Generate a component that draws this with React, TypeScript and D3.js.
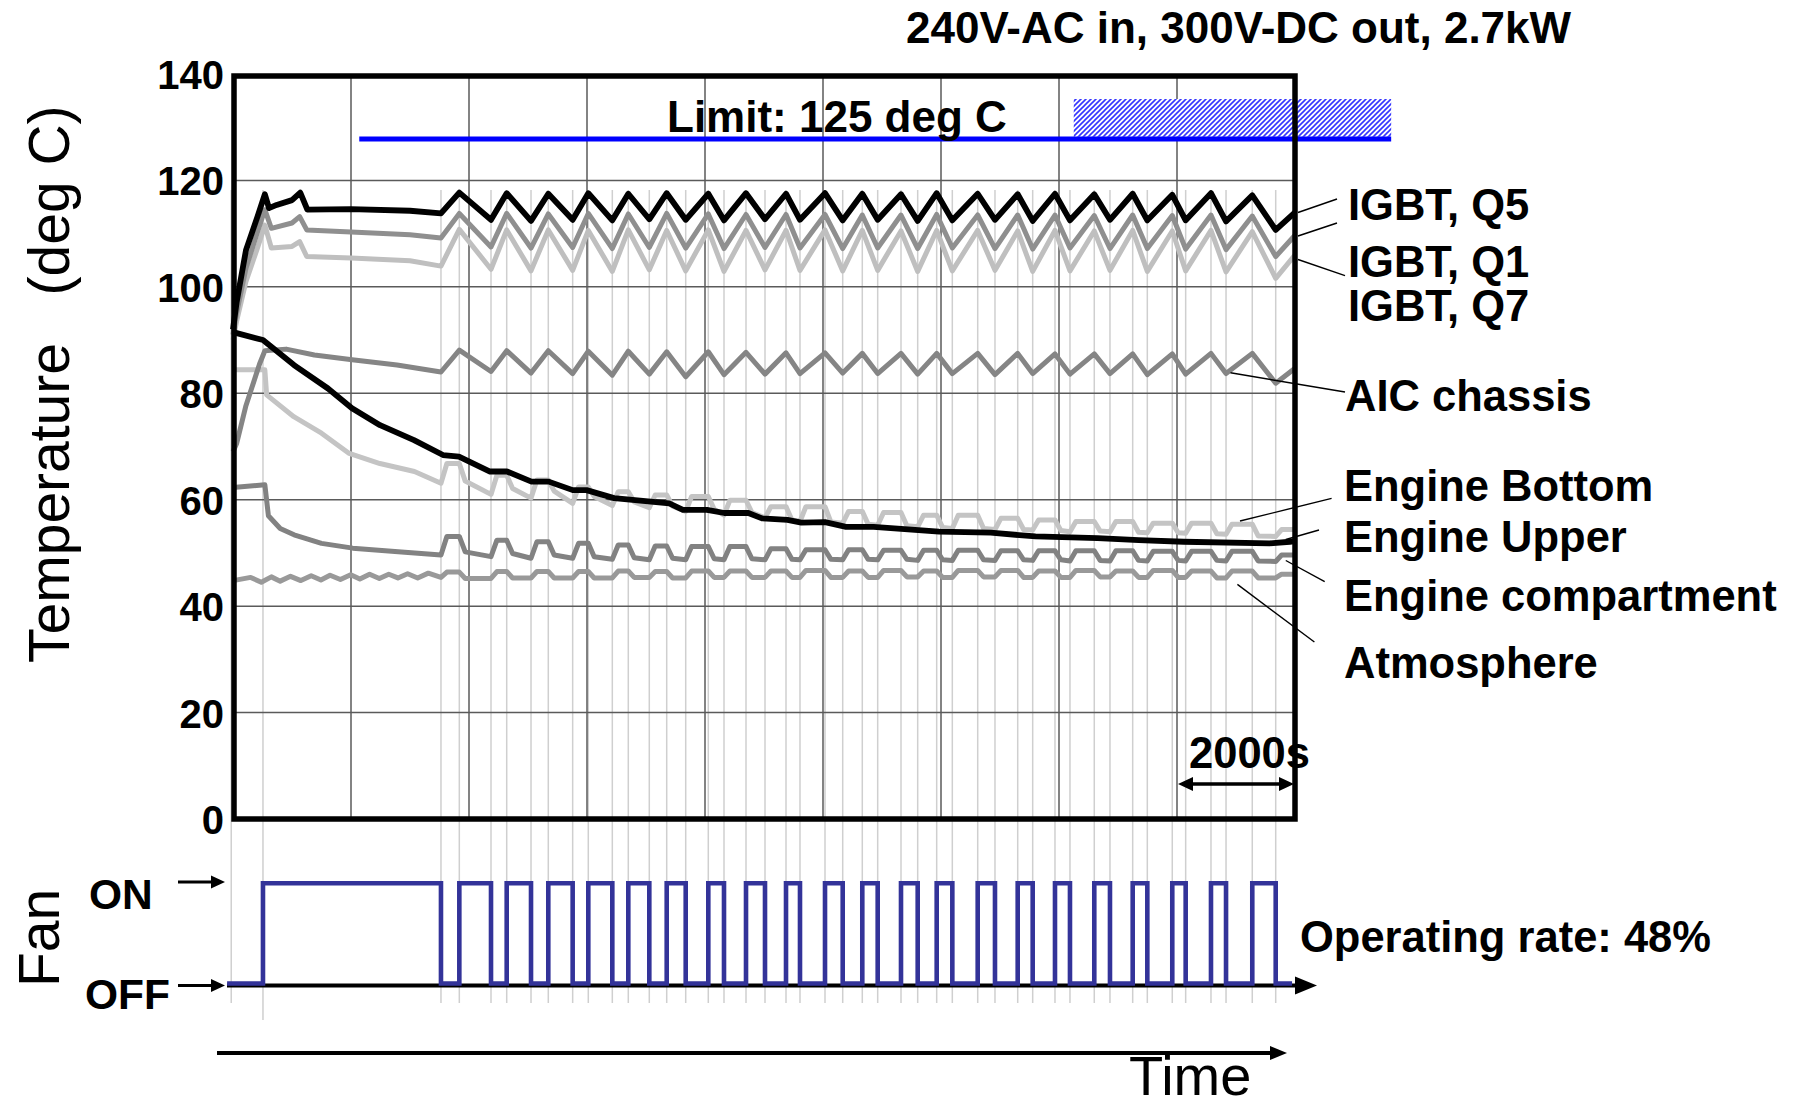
import React from 'react';
import * as d3 from 'd3';

// ---------------- data ----------------
const yTicks = [0, 20, 40, 60, 80, 100, 120, 140];
const gridTimes = [2000, 4000, 6000, 8000, 10000, 12000, 14000, 16000];
const tEnd = 18000;

// fan switching instants (s)
const fanOn = [508, 3836, 4639, 5344, 6022, 6700, 7351, 8056, 8695, 9373, 10034, 10666, 11322, 11927, 12622, 13300, 13932, 14598, 15249, 15920, 16576, 17276];
const fanOff = [3525, 4373, 5051, 5757, 6429, 7056, 7673, 8322, 9017, 9610, 10334, 10927, 11605, 12192, 12915, 13554, 14186, 14864, 15497, 16147, 16831, 17673];
const fanStart = -100;
const fanStop = 17950;

// IGBT Q5
const q5Lead = [[0, 92], [60, 97], [220, 106.9], [415, 113.2], [540, 117.4], [610, 114.8], [740, 115.4], [1000, 116.3], [1140, 117.7], [1260, 114.5], [2000, 114.6], [3000, 114.3], [3525, 113.8]];
const q5Peak = [117.7, 117.6, 117.5, 117.6, 117.5, 117.6, 117.5, 117.6, 117.5, 117.6, 117.5, 117.4, 117.6, 117.5, 117.4, 117.5, 117.4, 117.5, 117.3, 117.6, 117.2];
const q5Trough = [112.6, 112.4, 112.6, 112.5, 112.7, 112.6, 112.5, 112.7, 112.6, 112.5, 112.6, 112.4, 112.5, 112.6, 112.4, 112.5, 112.6, 112.5, 112.5, 112.3, 110.7];
const q5End = 114.0;

// IGBT Q1
const q1Lead = [[0, 91], [60, 95], [220, 103.5], [415, 110.3], [540, 114.5], [650, 111.0], [1000, 112.0], [1130, 113.2], [1250, 110.7], [2000, 110.3], [3000, 109.8], [3525, 109.2]];
const q1Peak = [113.8, 113.8, 113.7, 113.8, 113.7, 113.8, 113.7, 113.6, 113.6, 113.6, 113.5, 113.5, 113.6, 113.5, 113.5, 113.5, 113.4, 113.5, 113.4, 113.5, 113.3];
const q1Trough = [107.5, 107.3, 107.4, 107.2, 107.4, 107.3, 107.2, 107.4, 107.3, 107.2, 107.3, 107.2, 107.3, 107.2, 107.1, 107.3, 107.2, 107.2, 107.1, 107.0, 105.7];
const q1End = 109.7;

// IGBT Q7
const q7Lead = [[0, 90], [60, 93.5], [220, 101], [415, 107.3], [540, 111.6], [650, 107.3], [1000, 107.6], [1130, 108.5], [1250, 105.7], [2000, 105.4], [3000, 104.9], [3525, 103.9]];
const q7Peak = [110.8, 110.7, 110.7, 110.6, 110.7, 110.6, 110.7, 110.6, 110.6, 110.7, 110.6, 110.5, 110.6, 110.6, 110.5, 110.6, 110.5, 110.6, 110.5, 110.6, 110.4];
const q7Trough = [103.3, 103.0, 103.1, 102.9, 103.2, 103.0, 102.9, 103.2, 103.1, 103.0, 103.1, 102.9, 103.0, 103.1, 102.9, 103.0, 103.1, 102.9, 103.0, 102.8, 101.6];
const q7End = 106.0;

// AIC chassis
const aicLead = [[0, 69.0], [60, 70.5], [215, 77.5], [450, 85.5], [540, 88.0], [900, 88.3], [1380, 87.2], [2020, 86.3], [2780, 85.3], [3525, 84.0]];
const aicPeak = [88.1, 88.0, 88.0, 87.9, 87.9, 87.8, 87.8, 87.7, 87.6, 87.6, 87.5, 87.5, 87.5, 87.5, 87.5, 87.4, 87.4, 87.4, 87.4, 87.5, 87.5];
const aicTrough = [84.1, 83.8, 83.7, 83.4, 83.6, 83.1, 83.5, 83.6, 83.7, 83.8, 83.7, 83.6, 83.7, 83.5, 83.7, 83.6, 83.7, 83.5, 83.6, 83.7, 81.9];
const aicEnd = 84.7;

// Engine Bottom
const ebLead = [[0, 84.4], [540, 84.4], [570, 79.7], [1030, 75.6], [1500, 72.5], [1970, 68.7], [2490, 66.8], [3075, 65.3], [3525, 63.1]];
const ebHigh = [66.8, 64.6, 63.7, 62.4, 61.5, 60.9, 60.6, 59.9, 58.7, 58.7, 57.8, 57.6, 57.1, 57.1, 56.5, 56.2, 55.9, 55.9, 55.6, 55.6, 55.4];
const ebDrop = [63.5, 62.1, 61.6, 60.6, 59.6, 58.8, 58.2, 57.6, 56.2, 55.8, 55.4, 55.1, 54.8, 54.6, 54.4, 54.2, 54.1, 53.9, 53.8, 53.6, 53.2];
const ebLow = [61.0, 60.3, 59.3, 58.9, 58.5, 57.8, 57.1, 56.6, 55.9, 55.6, 55.2, 54.9, 54.6, 54.4, 54.3, 54.0, 54.0, 53.8, 53.7, 53.5, 53.1];
const ebEnd = 54.4;

// Engine Upper
const euPts = [[0, 91.5], [508, 90.0], [1034, 85.3], [1610, 80.9], [2017, 77.2], [2492, 74.0], [3068, 71.2], [3559, 68.4], [3830, 68.1], [4356, 65.3], [4644, 65.3], [5059, 63.4], [5351, 63.4], [5759, 61.8], [5993, 61.8], [6458, 60.3], [7393, 59.3], [7627, 58.1], [8034, 58.1], [8327, 57.5], [8735, 57.5], [8966, 56.5], [9398, 56.2], [9632, 55.7], [10034, 55.8], [10390, 54.9], [10857, 54.9], [11617, 54.3], [11966, 54.0], [12842, 53.8], [13601, 53.1], [14652, 52.8], [15352, 52.4], [16112, 52.1], [17569, 51.8], [17915, 52.1], [18000, 52.2]];

// Engine compartment
const cmpLead = [[0, 62.3], [540, 62.8], [600, 57.0], [800, 54.6], [1035, 53.4], [1500, 51.8], [2030, 50.9], [2800, 50.2], [3525, 49.6]];
const cmpHigh = [53.1, 52.4, 52.1, 51.8, 51.5, 51.3, 51.2, 51.2, 50.8, 50.6, 50.6, 50.5, 50.5, 50.5, 50.4, 50.4, 50.4, 50.4, 50.3, 50.3, 50.3];
const cmpDrop = [50.2, 49.9, 49.6, 49.3, 49.1, 49.0, 48.9, 48.9, 48.8, 48.8, 48.8, 48.8, 48.7, 48.7, 48.7, 48.7, 48.6, 48.6, 48.6, 48.6, 48.5];
const cmpLow = [49.3, 49.0, 49.0, 48.8, 48.7, 48.7, 48.7, 48.7, 48.7, 48.7, 48.7, 48.6, 48.6, 48.6, 48.6, 48.5, 48.5, 48.5, 48.5, 48.5, 48.4];
const cmpEnd = 49.6;

// Atmosphere
const atmLead = [[0, 44.8], [300, 45.4], [480, 44.5], [650, 45.5], [800, 44.7], [975, 45.6], [1150, 44.8], [1325, 45.7], [1490, 44.9], [1645, 45.8], [1820, 45.0], [1995, 45.9], [2150, 45.1], [2315, 46.0], [2480, 45.2], [2640, 46.0], [2795, 45.3], [2960, 46.1], [3130, 45.3], [3310, 46.2], [3525, 45.4]];
const atmHigh = [46.4, 46.5, 46.5, 46.5, 46.6, 46.5, 46.6, 46.6, 46.6, 46.7, 46.6, 46.7, 46.6, 46.7, 46.7, 46.6, 46.7, 46.6, 46.7, 46.6, 46.6];
const atmLow = [45.2, 45.3, 45.3, 45.3, 45.4, 45.3, 45.4, 45.4, 45.4, 45.4, 45.4, 45.5, 45.4, 45.5, 45.4, 45.4, 45.5, 45.4, 45.4, 45.3, 45.3];
const atmEnd = 46.0;

// limit annotation
const limitValue = 127.8;
const limitSpan = [2140, 19630];
const hatchSpan = [14250, 19630];
const hatchTemps = [128.2, 135.3];

const labels = [
  { text: 'IGBT, Q5', x: 1348, y: 220 },
  { text: 'IGBT, Q1', x: 1348, y: 277 },
  { text: 'IGBT, Q7', x: 1348, y: 321 },
  { text: 'AIC chassis', x: 1345, y: 411 },
  { text: 'Engine Bottom', x: 1344, y: 501 },
  { text: 'Engine Upper', x: 1344, y: 552 },
  { text: 'Engine compartment', x: 1344, y: 611 },
  { text: 'Atmosphere', x: 1344, y: 678 },
];
const leaders = [
  [1298, 212.5, 1337, 199],
  [1298, 236, 1337, 223],
  [1298, 259.5, 1345, 275.6],
  [1230.5, 372.8, 1345, 392],
  [1240, 521, 1331.6, 498.4],
  [1285.8, 539.5, 1319, 530],
  [1285.8, 560.5, 1324.7, 581.6],
  [1237.4, 584.4, 1314.4, 642],
];

// ---------------- builders ----------------
const ramp = 100;
function sawSeries(lead: number[][], peaks: number[], troughs: number[], endVal: number) {
  const pts = lead.map((p) => [p[0], p[1]]);
  for (let k = 1; k < fanOn.length; k++) {
    pts.push([fanOn[k], peaks[k - 1]]);
    pts.push([fanOff[k], troughs[k - 1]]);
  }
  pts.push([tEnd, endVal]);
  return pts;
}
function bumpSeries(lead: number[][], highs: number[], drops: number[], lows: number[], endVal: number) {
  const pts = lead.map((p) => [p[0], p[1]]);
  for (let k = 1; k < fanOn.length; k++) {
    pts.push([fanOff[k - 1] + ramp, highs[k - 1]]);
    pts.push([fanOn[k], highs[k - 1]]);
    pts.push([fanOn[k] + ramp, drops[k - 1]]);
    pts.push([fanOff[k], lows[k - 1]]);
  }
  pts.push([fanOff[fanOff.length - 1] + ramp, endVal]);
  pts.push([tEnd, endVal]);
  return pts;
}

const FONT = 'Liberation Sans, Arial, Helvetica, sans-serif';

export default function App() {
  const x = d3.scaleLinear().domain([0, tEnd]).range([233, 1295]);
  const y = d3.scaleLinear().domain([0, 140]).range([819, 74]);
  const fy = d3.scaleLinear().domain([0, 1]).range([983.5, 883.3]);

  const line = d3.line<number[]>().x((d) => x(d[0])).y((d) => y(d[1]));

  const series = [
    { pts: bumpSeries(ebLead, ebHigh, ebDrop, ebLow, ebEnd), color: '#c4c4c4', w: 5 },
    { pts: sawSeries(q7Lead, q7Peak, q7Trough, q7End), color: '#bfbfbf', w: 5 },
    { pts: bumpSeries(atmLead, atmHigh, atmLow, atmLow, atmEnd), color: '#999999', w: 5 },
    { pts: bumpSeries(cmpLead, cmpHigh, cmpDrop, cmpLow, cmpEnd), color: '#828282', w: 5 },
    { pts: sawSeries(aicLead, aicPeak, aicTrough, aicEnd), color: '#858585', w: 5 },
    { pts: sawSeries(q1Lead, q1Peak, q1Trough, q1End), color: '#8f8f8f', w: 5 },
    { pts: euPts, color: '#000000', w: 5.8 },
    { pts: sawSeries(q5Lead, q5Peak, q5Trough, q5End), color: '#000000', w: 5.8 },
  ];

  const fanPts: number[][] = [[fanStart, 0]];
  for (let k = 0; k < fanOn.length; k++) {
    fanPts.push([fanOn[k], 1]);
    fanPts.push([fanOff[k], 0]);
  }
  fanPts.push([fanStop, 0]);
  const fanLine = d3
    .line<number[]>()
    .x((d) => x(d[0]))
    .y((d) => fy(d[1]))
    .curve(d3.curveStepAfter);

  const edgeTimes = [-30, ...fanOn, ...fanOff];

  return (
    <svg
      width={1798}
      height={1108}
      viewBox="0 0 1798 1108"
      style={{ position: 'absolute', left: 0, top: 0, background: '#fff' }}
      fontFamily={FONT}
    >
      <defs>
        <pattern id="hatch" patternUnits="userSpaceOnUse" width="5" height="5">
          <rect width="5" height="5" fill="#ffffff" />
          <path d="M-1,6 L6,-1 M-1,1 L1,-1 M4,6 L6,4" stroke="#3535ff" strokeWidth="1.6" />
        </pattern>
      </defs>
      <rect x={0} y={0} width={1798} height={1108} fill="#fff" />

      {/* fan-switch marker lines */}
      {edgeTimes.map((t, i) => (
        <line
          key={'e' + i}
          x1={x(t)}
          x2={x(t)}
          y1={190}
          y2={t === fanOn[0] ? 1020 : 1003}
          stroke="#cfcfcf"
          strokeWidth={1.5}
        />
      ))}

      {/* grid */}
      {gridTimes.map((t) => (
        <line key={'gx' + t} x1={x(t)} x2={x(t)} y1={y(140)} y2={y(0)} stroke="#5a5a5a" strokeWidth={1.5} />
      ))}
      {yTicks.filter((v) => v > 0 && v < 140).map((v) => (
        <line key={'gy' + v} x1={x(0)} x2={x(tEnd)} y1={y(v)} y2={y(v)} stroke="#5a5a5a" strokeWidth={1.5} />
      ))}

      {/* limit */}
      <rect
        x={x(hatchSpan[0])}
        y={y(hatchTemps[1])}
        width={x(hatchSpan[1]) - x(hatchSpan[0])}
        height={y(hatchTemps[0]) - y(hatchTemps[1])}
        fill="url(#hatch)"
      />
      <line x1={x(limitSpan[0])} x2={x(limitSpan[1])} y1={y(limitValue)} y2={y(limitValue)} stroke="#0000ff" strokeWidth={5} />
      <text x={667} y={132} fontSize={44} fontWeight="bold">Limit: 125 deg C</text>

      {/* curves */}
      {series.map((s, i) => (
        <path key={'s' + i} d={line(s.pts as any) || ''} fill="none" stroke={s.color} strokeWidth={s.w} strokeLinejoin="round" />
      ))}

      {/* frame */}
      <rect x={x(0) + 1} y={y(140) + 2} width={x(tEnd) - x(0) - 1} height={y(0) - y(140) - 2} fill="none" stroke="#000" strokeWidth={5.5} />

      {/* y ticks */}
      {yTicks.map((v) => (
        <text key={'t' + v} x={224} y={y(v) + 15} fontSize={40} fontWeight="bold" textAnchor="end">
          {v}
        </text>
      ))}
      <text transform="translate(69,663) rotate(-90)" fontSize={57}>
        {'Temperature\u00A0\u00A0\u00A0(deg C)'}
      </text>

      {/* title */}
      <text x={906} y={43} fontSize={44} fontWeight="bold">240V-AC in, 300V-DC out, 2.7kW</text>

      {/* labels + leaders */}
      {leaders.map((l, i) => (
        <line key={'l' + i} x1={l[0]} y1={l[1]} x2={l[2]} y2={l[3]} stroke="#000" strokeWidth={1.4} />
      ))}
      {labels.map((l) => (
        <text key={l.text} x={l.x} y={l.y} fontSize={43.5} fontWeight="bold">
          {l.text}
        </text>
      ))}

      {/* 2000s scale */}
      <text x={1189} y={768} fontSize={43.5} fontWeight="bold">2000s</text>
      <line x1={x(16000) + 12} x2={x(tEnd) - 12} y1={784} y2={784} stroke="#000" strokeWidth={3.5} />
      <polygon points={`${x(16000) + 1},784 ${x(16000) + 16},777 ${x(16000) + 16},791`} fill="#000" />
      <polygon points={`${x(tEnd) - 1},784 ${x(tEnd) - 16},777 ${x(tEnd) - 16},791`} fill="#000" />

      {/* fan panel */}
      <line x1={227} x2={1300} y1={985.5} y2={985.5} stroke="#000" strokeWidth={4} />
      <polygon points="1295,976.5 1317,985.5 1295,994.5" fill="#000" />
      <path d={fanLine(fanPts as any) || ''} fill="none" stroke="#333399" strokeWidth={4.6} />

      <text x={89} y={909} fontSize={42.5} fontWeight="bold">ON</text>
      <text x={85} y={1009} fontSize={42.5} fontWeight="bold">OFF</text>
      <line x1={178} x2={214} y1={882} y2={882} stroke="#000" strokeWidth={3} />
      <polygon points="211,875.5 225,882 211,888.5" fill="#000" />
      <line x1={178} x2={214} y1={985.5} y2={985.5} stroke="#000" strokeWidth={3} />
      <polygon points="211,979 225,985.5 211,992" fill="#000" />
      <text transform="translate(59,987) rotate(-90)" fontSize={57}>Fan</text>

      <text x={1300} y={952} fontSize={43.5} fontWeight="bold">Operating rate: 48%</text>

      {/* time arrow */}
      <line x1={217} x2={1272} y1={1053} y2={1053} stroke="#000" strokeWidth={4} />
      <polygon points="1270,1046 1287,1053 1270,1060" fill="#000" />
      <text x={1129} y={1095} fontSize={56}>Time</text>
    </svg>
  );
}
